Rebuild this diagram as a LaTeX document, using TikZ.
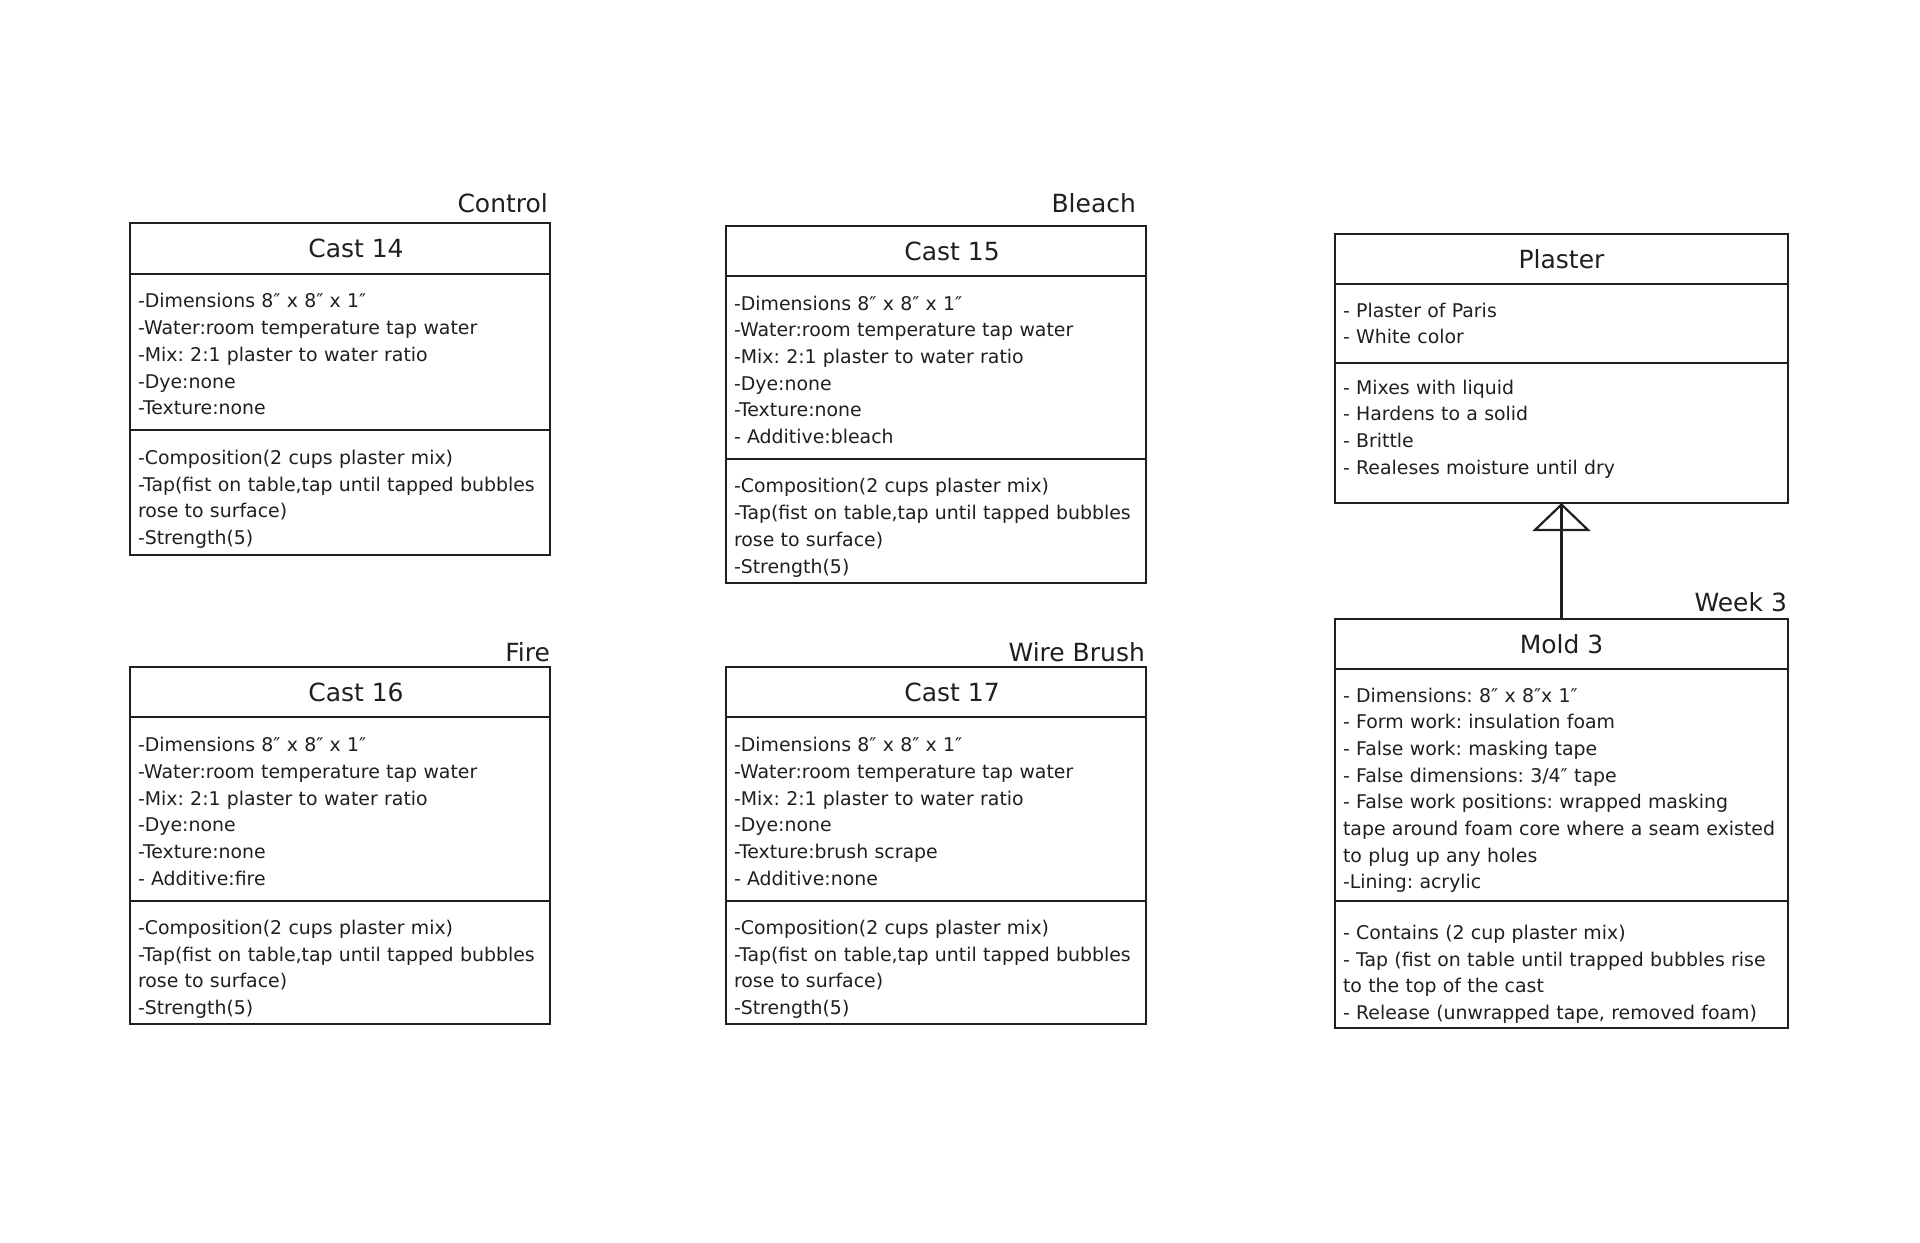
\documentclass[tikz,border=0pt]{standalone}
\usepackage{fontspec}
\setmainfont{DejaVu Sans}
\usetikzlibrary{arrows.meta, positioning}
\frenchspacing
\hyphenpenalty=10000
\exhyphenpenalty=10000

\begin{document}
\begin{tikzpicture}[
  x=0.5pt, y=-0.5pt,
  line width=1.1pt, color=black!88,
  head/.style ={draw, rectangle, minimum width=210pt, minimum height=25pt,
                outer sep=0pt, font=\fontsize{12.5}{15}\selectfont},
  castname/.style={head, execute at begin node={\hspace*{16pt}}},
  part/.style ={draw, rectangle, text width=202pt, inner xsep=4pt, inner ysep=0pt,
                outer sep=0pt, align=left, font=\fontsize{9.45}{13.35}\selectfont},
  attrs/.style={part, execute at begin node={\rule{0pt}{9.5pt}}},
  ops/.style  ={part, execute at begin node={\rule{0pt}{14pt}}},
  wide/.style ={minimum width=226.5pt},
  widepart/.style={text width=218.5pt},
  tag/.style  ={anchor=base east, inner sep=0pt, font=\fontsize{12.5}{15}\selectfont},
  gen/.style  ={-{Triangle[open, length=14pt, width=29pt]}},
]
\useasboundingbox (0,0) rectangle (1920,1242);

% Cast 14 - control
\node[castname, anchor=north west, minimum height=25.5pt] (c14) at (130,223) {Cast 14};
\node[attrs, below=0pt of c14, minimum height=78pt] (c14a)
  {-Dimensions 8″ x 8″ x 1″\\ -Water:room temperature tap water\\
   -Mix: 2:1 plaster to water ratio\\ -Dye:none\\ -Texture:none};
\node[ops, below=0pt of c14a, minimum height=62.5pt] (c14o)
  {-Composition(2 cups plaster mix)\\ -Tap(fist on table,tap until tapped bubbles\\
   rose to surface)\\ -Strength(5)};
\node[tag] (t14) at ([xshift=-0.5pt, yshift=5.5pt]c14.north east) {Control};

% Cast 15 - bleach
\node[castname, anchor=north west] (c15) at (726,226) {Cast 15};
\node[attrs, below=0pt of c15, minimum height=91.5pt] (c15a)
  {-Dimensions 8″ x 8″ x 1″\\ -Water:room temperature tap water\\
   -Mix: 2:1 plaster to water ratio\\ -Dye:none\\ -Texture:none\\ - Additive:bleach};
\node[ops, below=0pt of c15a, minimum height=62pt] (c15o)
  {-Composition(2 cups plaster mix)\\ -Tap(fist on table,tap until tapped bubbles\\
   rose to surface)\\ -Strength(5)};
\node[tag] (t15) at ([xshift=-4.5pt, yshift=7pt]c15.north east) {Bleach};

% Cast 16 - fire
\node[castname, anchor=north west] (c16) at (130,667) {Cast 16};
\node[attrs, below=0pt of c16, minimum height=92pt] (c16a)
  {-Dimensions 8″ x 8″ x 1″\\ -Water:room temperature tap water\\
   -Mix: 2:1 plaster to water ratio\\ -Dye:none\\ -Texture:none\\ - Additive:fire};
\node[ops, below=0pt of c16a, minimum height=61.5pt] (c16o)
  {-Composition(2 cups plaster mix)\\ -Tap(fist on table,tap until tapped bubbles\\
   rose to surface)\\ -Strength(5)};
\node[tag] (t16) at ([xshift=0.5pt, yshift=3pt]c16.north east) {Fire};

% Cast 17 - wire brush
\node[castname, anchor=north west] (c17) at (726,667) {Cast 17};
\node[attrs, below=0pt of c17, minimum height=92pt] (c17a)
  {-Dimensions 8″ x 8″ x 1″\\ -Water:room temperature tap water\\
   -Mix: 2:1 plaster to water ratio\\ -Dye:none\\ -Texture:brush scrape\\ - Additive:none};
\node[ops, below=0pt of c17a, minimum height=61.5pt] (c17o)
  {-Composition(2 cups plaster mix)\\ -Tap(fist on table,tap until tapped bubbles\\
   rose to surface)\\ -Strength(5)};
\node[tag] (t17) at ([yshift=3pt]c17.north east) {Wire Brush};

% Plaster
\node[head, wide, anchor=north west] (pla) at (1335,234) {Plaster};
\node[part, widepart, below=0pt of pla, minimum height=39.5pt] (plaa)
  {- Plaster of Paris\\ - White color};
\node[part, widepart, below=0pt of plaa, minimum height=70pt, inner ysep=8pt] (plao)
  {- Mixes with liquid\\ - Hardens to a solid\\ - Brittle\\
   - Realeses moisture until dry\rule[-6pt]{0pt}{0pt}};

% Mold 3
\node[head, wide, anchor=north west] (m3) at (1335,619) {Mold 3};
\node[part, widepart, below=0pt of m3, minimum height=116pt] (m3a)
  {\rule{0pt}{12.5pt}- Dimensions: 8″ x 8″x 1″\\ - Form work: insulation foam\\
   - False work: masking tape\\ - False dimensions: 3/4″ tape\\
   - False work positions: wrapped masking\\ tape around foam core where a seam existed\\
   to plug up any holes\\ -Lining: acrylic};
\node[part, widepart, below=0pt of m3a, minimum height=63.5pt] (m3o)
  {\rule{0pt}{17pt}- Contains (2 cup plaster mix)\\ - Tap (fist on table until trapped bubbles rise\\
   to the top of the cast\\ - Release (unwrapped tape, removed foam)};
\node[tag] (tm3) at ([yshift=4pt]m3.north east) {Week 3};

\draw[gen] (m3.north) -- (plao.south);
\draw (m3.north) -- (plao.south);
\end{tikzpicture}
\end{document}
